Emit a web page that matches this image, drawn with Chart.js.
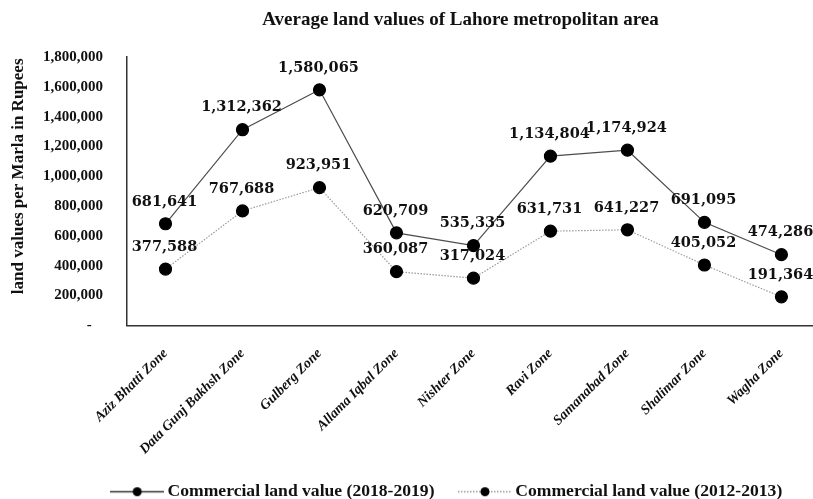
<!DOCTYPE html>
<html>
<head>
<meta charset="utf-8">
<script src="https://cdn.jsdelivr.net/npm/chart.js@4.4.1/dist/chart.umd.min.js"></script>
<style>
  html, body { margin: 0; padding: 0; background: #fff; }
  #wrap { width: 813px; height: 499px; position: relative; }
</style>
</head>
<body>
<div id="wrap"><canvas id="land-chart"></canvas></div>
<script>
// zones and values (Rs per marla)
const zones = ['Aziz Bhatti Zone', 'Data Gunj Bakhsh Zone', 'Gulberg Zone', 'Allama Iqbal Zone',
    'Nishter Zone', 'Ravi Zone', 'Samanabad Zone', 'Shalimar Zone', 'Wagha Zone'];
const value2018 = [681641, 1312362, 1580065, 620709, 535335, 1134804, 1174924, 691095, 474286];
const value2012 = [377588, 767688, 923951, 360087, 317024, 631731, 641227, 405052, 191364];
const yTicks = [0, 200000, 400000, 600000, 800000, 1000000, 1200000, 1400000, 1600000, 1800000];

const serif = '"Liberation Serif", "DejaVu Serif", serif';
const fmt = v => v.toLocaleString('en-US');

// little "line + dot" picture for the legend
function legendMarker(color, dash) {
    const c = document.createElement('canvas');
    c.width = 54; c.height = 14;
    const g = c.getContext('2d');
    g.strokeStyle = color;
    g.lineWidth = 1.3;
    g.setLineDash(dash);
    g.beginPath(); g.moveTo(0, 7.5); g.lineTo(54, 7.5); g.stroke();
    g.setLineDash([]);
    g.fillStyle = '#000';
    g.beginPath(); g.arc(27, 7.5, 4.5, 0, Math.PI * 2); g.fill();
    return c;
}
const markers = [legendMarker('#333', []), legendMarker('#999', [1.5, 1.5])];

// value labels above every point
const pointLabels = {
    id: 'pointLabels',
    afterDatasetsDraw(chart) {
        const ctx = chart.ctx;
        ctx.save();
        ctx.font = 'bold 14.5px "DejaVu Serif", serif';
        ctx.fillStyle = '#111';
        ctx.textAlign = 'center';
        ctx.textBaseline = 'middle';
        chart.data.datasets.forEach((ds, di) => {
            chart.getDatasetMeta(di).data.forEach((pt, i) => {
                ctx.fillText(fmt(ds.data[i].y), pt.x - 1, pt.y - 22);
            });
        });
        ctx.restore();
    }
};

// title and legend sit right of the canvas centre; long zone names
// run below the x scale box, so open its label clip to the bottom
const shiftBoxes = {
    id: 'shiftBoxes',
    afterLayout(chart) {
        const t = chart.titleBlock;
        t.left += 54; t.right += 54;
        const lg = chart.legend;
        lg.left += 42.5; lg.right += 42.5;
        lg.top += 11; lg.bottom += 11;
        chart.scales.x.bottom = chart.height;
    }
};

const ctx = document.getElementById('land-chart').getContext('2d');
new Chart(ctx, {
    type: 'line',
    data: {
        datasets: [{
            label: 'Commercial land value (2018-2019)',
            data: value2018.map((v, i) => ({ x: i, y: v })),
            borderColor: '#4d4d4d',
            borderWidth: 1.2,
            pointBackgroundColor: '#000',
            pointBorderColor: '#000',
            pointRadius: 6,
            tension: 0
        }, {
            label: 'Commercial land value (2012-2013)',
            data: value2012.map((v, i) => ({ x: i, y: v })),
            borderColor: '#9a9a9a',
            borderWidth: 1.2,
            borderDash: [1.5, 1.5],
            pointBackgroundColor: '#000',
            pointBorderColor: '#000',
            pointRadius: 6,
            tension: 0
        }]
    },
    options: {
        responsive: true,
        maintainAspectRatio: false,
        animation: false,
        layout: { padding: 0, autoPadding: false },
        plugins: {
            title: {
                display: true,
                text: 'Average land values of Lahore metropolitan area',
                color: '#111',
                font: { family: serif, size: 19, weight: 'bold' },
                padding: { top: 8.6, bottom: 25.6 }
            },
            legend: {
                position: 'bottom',
                labels: {
                    usePointStyle: true,
                    pointStyleWidth: 43,
                    padding: 29,
                    color: '#111',
                    font: { family: serif, size: 17.6, weight: 'bold' },
                    generateLabels(chart) {
                        return Chart.defaults.plugins.legend.labels.generateLabels(chart)
                            .map((item, i) => Object.assign(item, { pointStyle: markers[i] }));
                    }
                }
            },
            tooltip: { enabled: false }
        },
        scales: {
            x: {
                type: 'linear',
                min: -0.5,
                max: 8.41,
                grid: { display: false },
                border: { display: true, color: '#333', width: 1.5 },
                afterBuildTicks(axis) {
                    axis.ticks = zones.map((_, i) => ({ value: i }));
                },
                afterFit(scale) {
                    scale.height = 117;
                    scale.paddingRight = 0;
                },
                ticks: {
                    autoSkip: false,
                    minRotation: 45,
                    maxRotation: 45,
                    padding: 12,
                    color: '#111',
                    font: { family: serif, size: 14, weight: 'bold', style: 'italic' },
                    callback: v => zones[v]
                }
            },
            y: {
                min: 0,
                max: 1800000,
                grid: { display: false },
                border: { display: true, color: '#333', width: 1.5 },
                afterBuildTicks(axis) {
                    axis.ticks = yTicks.map(v => ({ value: v }));
                },
                afterFit(scale) { scale.width = 127; },
                ticks: {
                    padding: 16,
                    color: '#111',
                    font: { family: serif, size: 15, weight: 'bold' },
                    callback: v => v === 0 ? '-   ' : fmt(v)
                },
                title: {
                    display: true,
                    text: '       land values per Marla in Rupees',
                    color: '#111',
                    font: { family: serif, size: 17, weight: 'bold' },
                    padding: { top: 8, bottom: 0 }
                }
            }
        }
    },
    plugins: [pointLabels, shiftBoxes]
});
</script>
</body>
</html>
